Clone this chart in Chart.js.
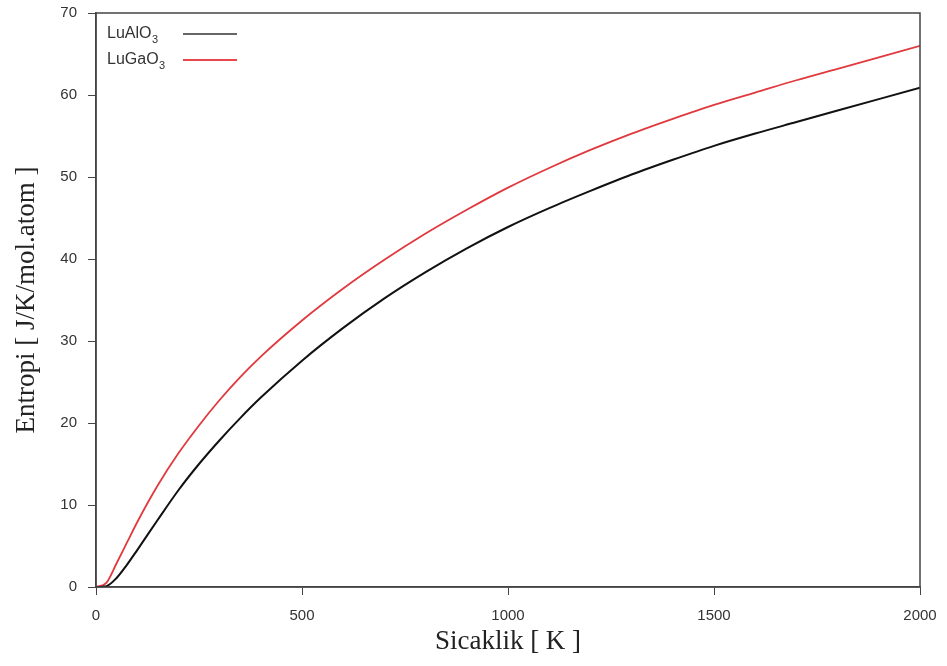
<!DOCTYPE html>
<html>
<head>
<meta charset="utf-8">
<script src="https://cdn.jsdelivr.net/npm/chart.js@4/dist/chart.umd.min.js"></script>
<style>
  html, body { margin: 0; padding: 0; background: #fff; }
  #wrap { width: 947px; height: 666px; }
</style>
</head>
<body>
<div id="wrap"><canvas id="c" width="947" height="666"></canvas></div>
<script>
// Temperature grid (K)
const temperatures = [0, 25, 50, 75, 100, 150, 200, 250, 300, 350, 400, 500, 600, 700, 800, 900, 1000, 1100, 1200, 1300, 1400, 1500, 1600, 1700, 1800, 1900, 2000];
// Entropy, J/K/mol.atom
const luAlO3 = [0, 0.1, 1.1, 2.7, 4.5, 8.2, 11.8, 15.0, 17.9, 20.6, 23.1, 27.6, 31.6, 35.2, 38.4, 41.3, 43.9, 46.2, 48.3, 50.3, 52.1, 53.8, 55.3, 56.7, 58.1, 59.5, 60.9];
const luGaO3 = [0, 0.5, 2.9, 5.4, 7.9, 12.4, 16.3, 19.7, 22.8, 25.6, 28.1, 32.5, 36.4, 39.9, 43.1, 46.0, 48.7, 51.1, 53.3, 55.3, 57.1, 58.8, 60.3, 61.8, 63.2, 64.6, 66.0];
const seriesNames = ['LuAlO3', 'LuGaO3'];
const xTicks = [0, 500, 1000, 1500, 2000];
const yTicks = [0, 10, 20, 30, 40, 50, 60, 70];

const toXY = arr => arr.map((v, i) => ({ x: temperatures[i], y: v }));

const framePlugin = {
  id: 'frame',
  afterDatasetsDraw(chart) {
    const { ctx, chartArea: a } = chart;
    ctx.save();
    ctx.strokeStyle = '#444';
    ctx.lineWidth = 1.5;
    ctx.strokeRect(a.left, a.top, a.right - a.left, a.bottom - a.top);
    ctx.restore();
  }
};

const legendPlugin = {
  id: 'subLegend',
  afterDraw(chart) {
    const { ctx } = chart;
    const rows = [
      { name: seriesNames[0], color: '#666', y: 34 },
      { name: seriesNames[1], color: '#e8474c', y: 60 }
    ];
    ctx.save();
    rows.forEach(r => {
      const base = r.name.slice(0, -1);
      const sub = r.name.slice(-1);
      ctx.fillStyle = '#333';
      ctx.font = '16px "Liberation Sans", Arial, sans-serif';
      ctx.textBaseline = 'middle';
      ctx.textAlign = 'left';
      ctx.fillText(base, 107, r.y);
      const w = ctx.measureText(base).width;
      ctx.font = '11px "Liberation Sans", Arial, sans-serif';
      ctx.fillText(sub, 107 + w + 0.5, r.y + 6);
      ctx.strokeStyle = r.color;
      ctx.lineWidth = 2;
      ctx.beginPath();
      ctx.moveTo(183, r.y);
      ctx.lineTo(237, r.y);
      ctx.stroke();
    });
    ctx.restore();
  }
};

new Chart(document.getElementById('c'), {
  type: 'line',
  data: {
    datasets: [
      { label: seriesNames[0], data: toXY(luAlO3), borderColor: '#111', borderWidth: 2, pointRadius: 0, cubicInterpolationMode: 'monotone', fill: false },
      { label: seriesNames[1], data: toXY(luGaO3), borderColor: '#e0393e', borderWidth: 1.8, pointRadius: 0, cubicInterpolationMode: 'monotone', fill: false }
    ]
  },
  options: {
    responsive: false,
    animation: false,
    devicePixelRatio: 1,
    layout: { padding: { top: 13, right: 27, left: 0, bottom: 0 } },
    plugins: { legend: { display: false }, tooltip: { enabled: false } },
    scales: {
      x: {
        type: 'linear', min: 0, max: 2000,
        afterBuildTicks: s => { s.ticks = xTicks.map(v => ({ value: v })); },
        afterFit: s => { s.height = 79; s.paddingLeft = 0; s.paddingRight = 0; },
        grid: { drawOnChartArea: false, tickLength: 8, color: '#444', tickWidth: 1 },
        border: { color: '#444', width: 1.5 },
        ticks: { color: '#333', font: { family: '"Liberation Sans", Arial, sans-serif', size: 15 }, padding: 12, maxRotation: 0, callback: v => String(v) },
        title: { display: true, text: 'Sicaklik [ K ]', color: '#222', font: { family: '"Liberation Serif", "Times New Roman", serif', size: 27 }, padding: { top: 0, bottom: 8 } }
      },
      y: {
        type: 'linear', min: 0, max: 70,
        afterBuildTicks: s => { s.ticks = yTicks.map(v => ({ value: v })); },
        afterFit: s => { s.width = 96; s.paddingTop = 0; s.paddingBottom = 0; },
        grid: { drawOnChartArea: false, tickLength: 8, color: '#444', tickWidth: 1 },
        border: { color: '#444', width: 1.5 },
        ticks: { color: '#333', font: { family: '"Liberation Sans", Arial, sans-serif', size: 15 }, padding: 11, callback: v => String(v) },
        title: { display: true, text: 'Entropi [ J/K/mol.atom ]', color: '#222', font: { family: '"Liberation Serif", "Times New Roman", serif', size: 27 }, padding: { top: 11, bottom: 0 } }
      }
    }
  },
  plugins: [framePlugin, legendPlugin]
});
</script>
</body>
</html>
